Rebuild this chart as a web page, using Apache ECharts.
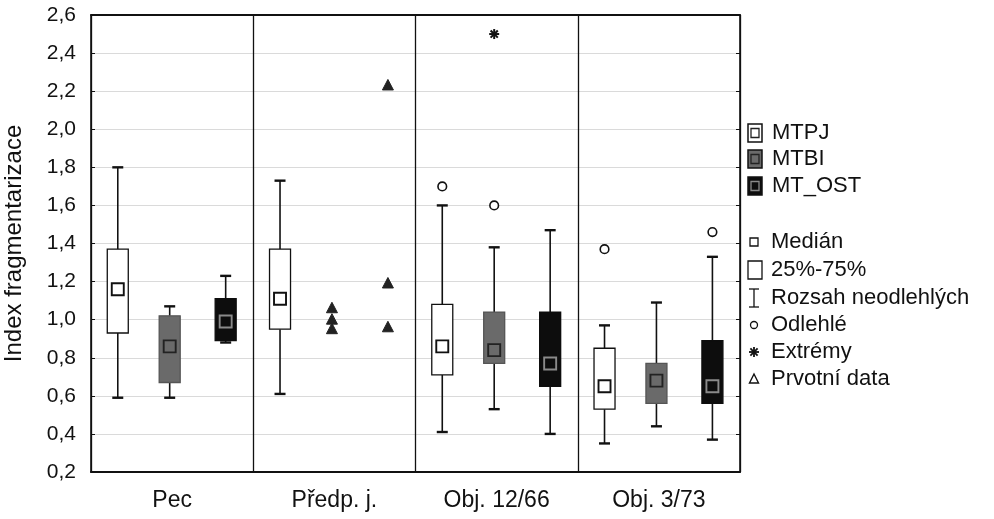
<!DOCTYPE html>
<html><head><meta charset="utf-8">
<script src="https://cdn.jsdelivr.net/npm/echarts@6/dist/echarts.min.js"></script>
<style>html,body{margin:0;padding:0;background:#fff}#c{width:994px;height:519px}</style>
</head><body><div id="c"></div>
<script>
// ---- data ----
const categories = ['Pec', 'Předp. j.', 'Obj. 12/66', 'Obj. 3/73'];
const groups = ['MTPJ', 'MTBI', 'MT_OST'];
// [low whisker, Q1, median, Q3, high whisker] per category; null = no box
const mtpjStats  = [[0.59, 0.93, 1.16, 1.37, 1.80], [0.61, 0.95, 1.11, 1.37, 1.73], [0.41, 0.71, 0.86, 1.08, 1.60], [0.35, 0.53, 0.65, 0.85, 0.97]];
const mtbiStats  = [[0.59, 0.67, 0.86, 1.02, 1.07], null, [0.53, 0.77, 0.84, 1.04, 1.38], [0.44, 0.56, 0.68, 0.77, 1.09]];
const mtostStats = [[0.88, 0.89, 0.99, 1.11, 1.23], null, [0.40, 0.65, 0.77, 1.04, 1.47], [0.37, 0.56, 0.65, 0.89, 1.33]];
// [category index, group index, value]
const outliers = [[2, 0, 1.70], [2, 1, 1.60], [3, 0, 1.37], [3, 2, 1.46]];
const extremes = [[2, 1, 2.50]];
const rawData  = [[1, 1, 1.06], [1, 1, 1.00], [1, 1, 0.95], [1, 2, 2.23], [1, 2, 1.19], [1, 2, 0.96]];
const yMin = 0.2, yMax = 2.6, yStep = 0.2;
const yName = 'Index fragmentarizace';
const legendSeries = ['MTPJ', 'MTBI', 'MT_OST'];
const legendKeys = ['Medián', '25%-75%', 'Rozsah neodlehlých', 'Odlehlé', 'Extrémy', 'Prvotní data'];

// ---- styles ----
const FONT = 'Liberation Sans, Arial, sans-serif';
const slotOffsets = [-0.335, -0.015, 0.33];
const boxStyles = [
  {fill: '#ffffff', stroke: '#111', medStroke: '#111'},
  {fill: '#6a6a6a', stroke: '#555', medStroke: '#222'},
  {fill: '#0d0d0d', stroke: '#0d0d0d', medStroke: '#8a8a8a'}
];
const BOXW = 21, CAPW = 11, MEDW = 12;

function slotX(api, ci, slot) {
  const band = api.size([1, 0])[0];
  return api.coord([ci, 0])[0] + slotOffsets[slot] * band;
}

function boxSeries(name, stats, slot) {
  const data = [];
  stats.forEach((s, i) => { if (s) data.push([i].concat(s)); });
  const st = boxStyles[slot];
  return {
    type: 'custom', name, xAxisIndex: 0, yAxisIndex: 0,
    encode: {x: 0, y: [1, 2, 3, 4, 5]},
    data,
    z: 5,
    renderItem(params, api) {
      const ci = api.value(0);
      const cx = slotX(api, ci, slot);
      const y = k => api.coord([ci, api.value(k)])[1];
      const yLo = y(1), yQ1 = y(2), yMed = y(3), yQ3 = y(4), yHi = y(5);
      const ls = {stroke: '#111', lineWidth: 1.6};
      return {type: 'group', children: [
        {type: 'line', shape: {x1: cx, y1: yHi, x2: cx, y2: yQ3}, style: ls},
        {type: 'line', shape: {x1: cx, y1: yQ1, x2: cx, y2: yLo}, style: ls},
        {type: 'line', shape: {x1: cx - CAPW / 2, y1: yHi, x2: cx + CAPW / 2, y2: yHi}, style: {stroke: '#111', lineWidth: 2.4}},
        {type: 'line', shape: {x1: cx - CAPW / 2, y1: yLo, x2: cx + CAPW / 2, y2: yLo}, style: {stroke: '#111', lineWidth: 2.4}},
        {type: 'rect', shape: {x: cx - BOXW / 2, y: yQ3, width: BOXW, height: yQ1 - yQ3}, style: {fill: st.fill, stroke: st.stroke, lineWidth: 1.3}},
        {type: 'rect', shape: {x: cx - MEDW / 2, y: yMed - MEDW / 2, width: MEDW, height: MEDW}, style: {fill: st.fill, stroke: st.medStroke, lineWidth: 1.9}}
      ]};
    }
  };
}

function pointSeries(name, data, kind) {
  return {
    type: 'custom', name, xAxisIndex: 0, yAxisIndex: 0,
    encode: {x: 0, y: 2},
    data, z: 6,
    renderItem(params, api) {
      const ci = api.value(0), slot = api.value(1);
      const cx = slotX(api, ci, slot);
      const cy = api.coord([ci, api.value(2)])[1];
      if (kind === 'circle') {
        return {type: 'circle', shape: {cx, cy, r: 4.3}, style: {fill: '#fff', stroke: '#111', lineWidth: 1.6}};
      }
      if (kind === 'star') {
        const r = 5, d = 3.6, s = {stroke: '#111', lineWidth: 2};
        return {type: 'group', children: [
          {type: 'line', shape: {x1: cx - r, y1: cy, x2: cx + r, y2: cy}, style: s},
          {type: 'line', shape: {x1: cx, y1: cy - r, x2: cx, y2: cy + r}, style: s},
          {type: 'line', shape: {x1: cx - d, y1: cy - d, x2: cx + d, y2: cy + d}, style: s},
          {type: 'line', shape: {x1: cx - d, y1: cy + d, x2: cx + d, y2: cy - d}, style: s}
        ]};
      }
      return {type: 'polygon', shape: {points: [[cx, cy - 6], [cx - 5.5, cy + 4.5], [cx + 5.5, cy + 4.5]]},
        style: {fill: '#222', stroke: '#222', lineWidth: 1}};
    }
  };
}

// ---- legend (graphic) ----
const LX = 748, TX = 772;
const legendYs = [133, 159, 186];
const keyYs = [242, 270, 298, 325, 352, 379];
const g = [];
legendSeries.forEach((name, i) => {
  const st = boxStyles[i], cy = legendYs[i];
  g.push({type: 'rect', shape: {x: LX, y: cy - 9, width: 14, height: 18}, style: {fill: st.fill, stroke: '#111', lineWidth: 1.5}});
  g.push({type: 'rect', shape: {x: LX + 3, y: cy - 4.5, width: 8, height: 9}, style: {fill: st.fill, stroke: i === 2 ? '#8a8a8a' : '#222', lineWidth: 1.3}});
  g.push({type: 'text', x: TX, y: cy, style: {text: name, font: '22px ' + FONT, fill: '#111', verticalAlign: 'middle'}});
});
const kx = 754;
g.push({type: 'rect', shape: {x: kx - 4, y: keyYs[0] - 4, width: 8, height: 8}, style: {fill: '#fff', stroke: '#111', lineWidth: 1.3}});
g.push({type: 'rect', shape: {x: LX, y: keyYs[1] - 9, width: 14, height: 18}, style: {fill: '#fff', stroke: '#111', lineWidth: 1.3}});
g.push({type: 'line', shape: {x1: kx, y1: keyYs[2] - 9, x2: kx, y2: keyYs[2] + 9}, style: {stroke: '#111', lineWidth: 1.3}});
g.push({type: 'line', shape: {x1: kx - 5, y1: keyYs[2] - 9, x2: kx + 5, y2: keyYs[2] - 9}, style: {stroke: '#111', lineWidth: 1.3}});
g.push({type: 'line', shape: {x1: kx - 5, y1: keyYs[2] + 9, x2: kx + 5, y2: keyYs[2] + 9}, style: {stroke: '#111', lineWidth: 1.3}});
g.push({type: 'circle', shape: {cx: kx, cy: keyYs[3], r: 3.5}, style: {fill: '#fff', stroke: '#111', lineWidth: 1.3}});
[[5, 0], [0, 5], [3.6, 3.6], [3.6, -3.6]].forEach(([dx, dy]) => {
  g.push({type: 'line', shape: {x1: kx - dx, y1: keyYs[4] - dy, x2: kx + dx, y2: keyYs[4] + dy}, style: {stroke: '#111', lineWidth: 1.8}});
});
g.push({type: 'polygon', shape: {points: [[kx, keyYs[5] - 5], [kx - 4.5, keyYs[5] + 4], [kx + 4.5, keyYs[5] + 4]]}, style: {fill: 'none', stroke: '#111', lineWidth: 1.4}});
legendKeys.forEach((t, i) => {
  g.push({type: 'text', x: TX - 1, y: keyYs[i], style: {text: t, font: '22px ' + FONT, fill: '#111', verticalAlign: 'middle'}});
});

const fmt = v => v.toFixed(1).replace('.', ',');
const chart = echarts.init(document.getElementById('c'), null, {renderer: 'canvas'});
chart.setOption({
  backgroundColor: '#fff',
  animation: false,
  textStyle: {fontFamily: FONT},
  grid: {left: 91, right: 254, top: 15, bottom: 47, containLabel: false, outerBoundsMode: 'none'},
  xAxis: [
    {type: 'category', data: categories, position: 'bottom',
     axisLine: {lineStyle: {color: '#111', width: 2.2}},
     axisTick: {alignWithLabel: true, inside: true, length: 4, lineStyle: {color: '#111'}},
     axisLabel: {fontSize: 23, color: '#111', margin: 17, fontFamily: FONT},
     splitLine: {show: true, lineStyle: {color: '#111', width: 1.3}}},
    {type: 'category', data: categories, position: 'top',
     axisLine: {lineStyle: {color: '#111', width: 2}},
     axisTick: {alignWithLabel: true, inside: true, length: 4, lineStyle: {color: '#111'}},
     axisLabel: {show: false}, splitLine: {show: false}}
  ],
  yAxis: [
    {type: 'value', min: yMin, max: yMax, interval: yStep, position: 'left',
     name: yName, nameLocation: 'middle', nameRotate: 90, nameGap: 65,
     nameTextStyle: {fontSize: 24, color: '#111', fontFamily: FONT},
     axisLine: {show: true, lineStyle: {color: '#111', width: 1.6}},
     axisTick: {show: true, inside: true, length: 4, lineStyle: {color: '#111'}},
     axisLabel: {fontSize: 21, color: '#111', margin: 15, formatter: fmt, fontFamily: FONT},
     splitLine: {show: true, lineStyle: {color: '#dadada', width: 1}}},
    {type: 'value', min: yMin, max: yMax, interval: yStep, position: 'right',
     axisLine: {show: true, lineStyle: {color: '#111', width: 1.6}},
     axisTick: {show: true, inside: true, length: 4, lineStyle: {color: '#111'}},
     axisLabel: {show: false}, splitLine: {show: false}}
  ],
  series: [
    boxSeries(groups[0], mtpjStats, 0),
    boxSeries(groups[1], mtbiStats, 1),
    boxSeries(groups[2], mtostStats, 2),
    pointSeries('Odlehlé', outliers, 'circle'),
    pointSeries('Extrémy', extremes, 'star'),
    pointSeries('Prvotní data', rawData, 'triangle')
  ],
  graphic: g
});
</script></body></html>
